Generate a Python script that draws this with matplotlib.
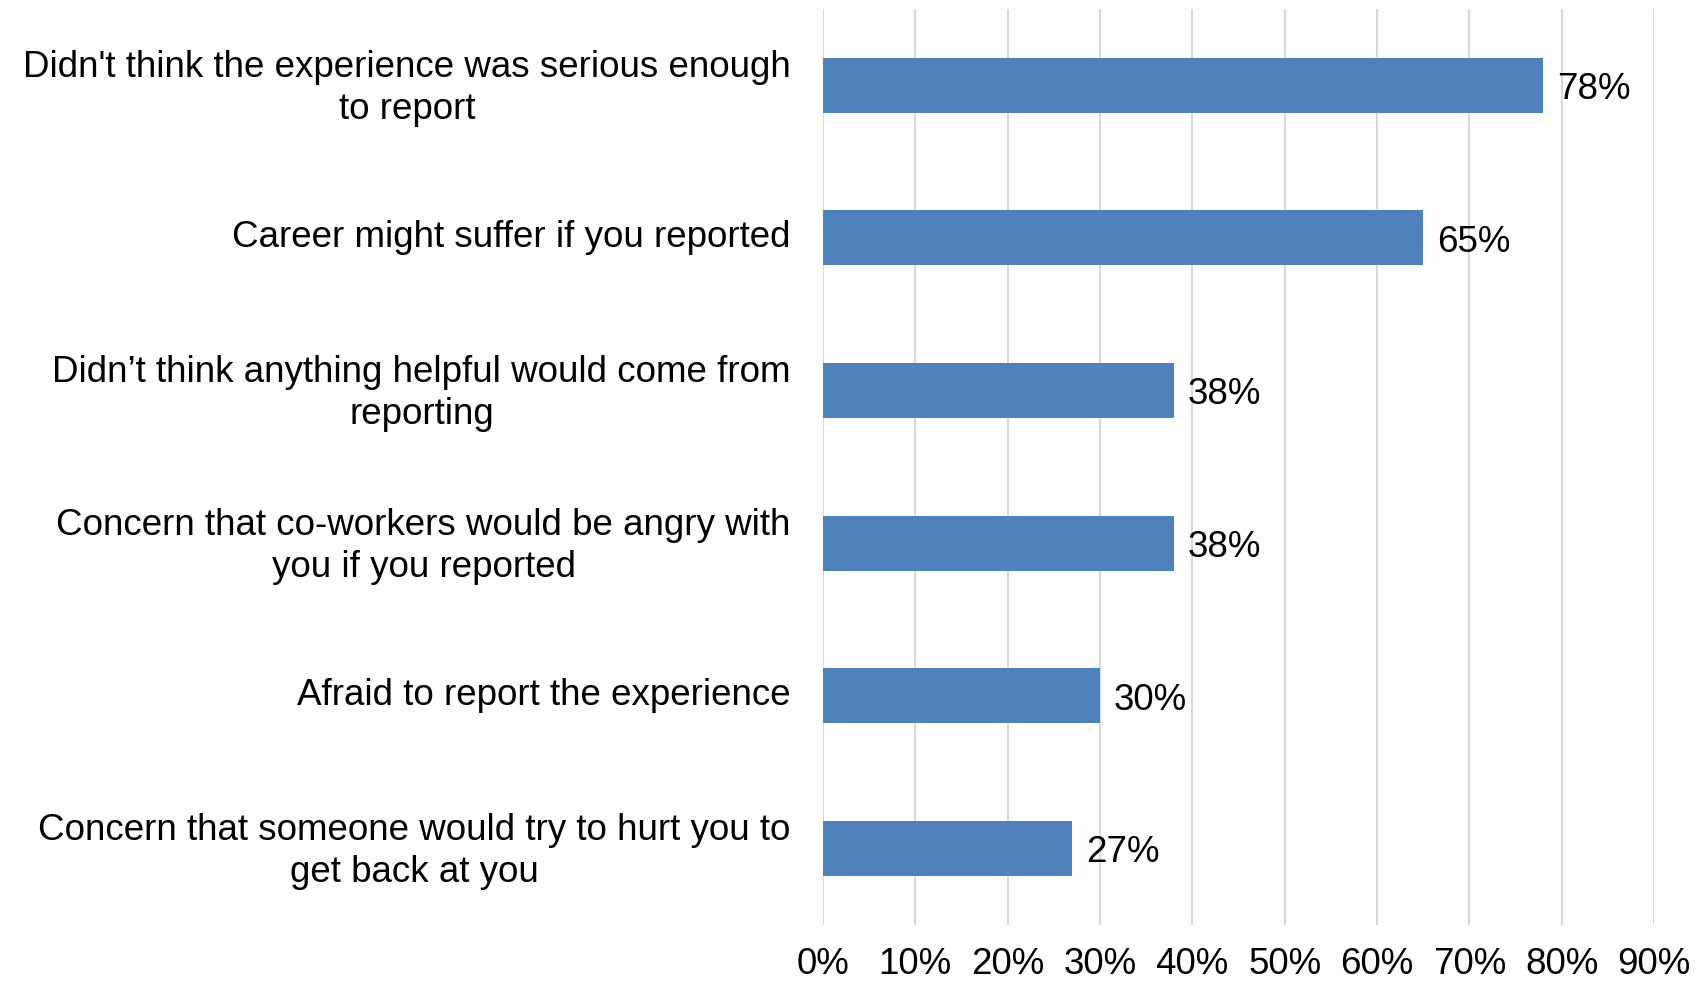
import matplotlib
matplotlib.use("Agg")
import matplotlib.pyplot as plt
import matplotlib.transforms as mtransforms
from matplotlib.ticker import FuncFormatter

plt.rcParams["font.family"] = ["Liberation Sans", "DejaVu Sans"]

categories = [
    "Didn't think the experience was serious enough\nto report",
    "Career might suffer if you reported",
    "Didn\u2019t think anything helpful would come from\nreporting",
    "Concern that co-workers would be angry with\nyou if you reported",
    "Afraid to report the experience",
    "Concern that someone would try to hurt you to\nget back at you",
]
values = [78, 65, 38, 38, 30, 27]
xticks = [0, 10, 20, 30, 40, 50, 60, 70, 80, 90]

BAR = "#4f81bd"
GRID = "#d9d9d9"
FS = 26.5

fig = plt.figure(figsize=(17.07, 9.84), dpi=100)
ax = fig.add_axes([0.482, 0.060, 0.487, 0.931])

ypos = list(range(len(categories)))
ax.barh(ypos, values, height=0.36, color=BAR, zorder=2)
for y, v in zip(ypos, values):
    ax.annotate(f"{v}%", (v, y), xytext=(10, -3), textcoords="offset points",
                va="center", ha="left", fontsize=FS)

ax.set_xlim(0, 90)
ax.set_ylim(len(categories) - 0.5, -0.5)
ax.set_xticks(xticks)
ax.xaxis.set_major_formatter(FuncFormatter(lambda x, p: f"{x:.0f}%"))
ax.set_yticks(ypos)
ax.set_yticklabels(categories, fontsize=FS, multialignment="center", linespacing=1.25)
ax.tick_params(axis="x", length=0, pad=16, labelsize=FS)
ax.tick_params(axis="y", length=0, pad=23)
# nudge category labels up a little
shift = mtransforms.ScaledTranslation(0, 3 / 72, fig.dpi_scale_trans)
for lab in ax.get_yticklabels():
    lab.set_transform(lab.get_transform() + shift)
ax.grid(axis="x", color=GRID, lw=1.5, zorder=0)
for s in ax.spines.values():
    s.set_visible(False)

fig.savefig("out.png", dpi=100)
